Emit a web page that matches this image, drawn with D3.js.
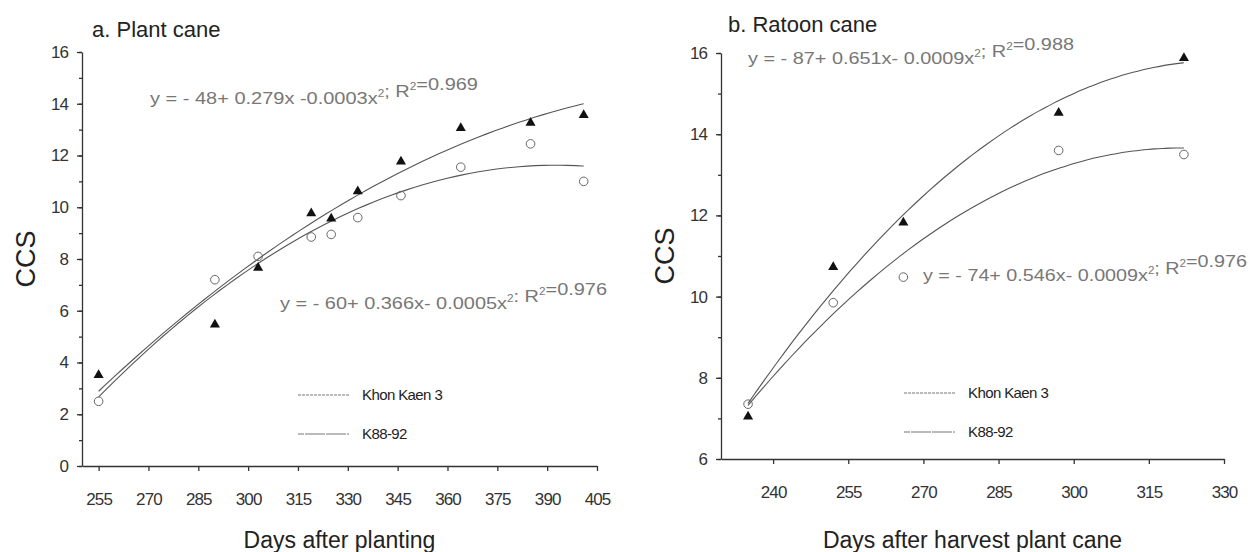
<!DOCTYPE html>
<html>
<head>
<meta charset="utf-8">
<script src="https://cdn.jsdelivr.net/npm/d3@7"></script>
<style>
  body { margin: 0; background: #fff; }
  text { font-family: "Liberation Sans", Arial, sans-serif; fill: #222; }
  .tick text { font-size: 17px; letter-spacing: -0.9px; fill: #333; }
</style>
</head>
<body>
<svg id="chart" width="1254" height="552"></svg>
<script>
// a. Plant cane
const plantDays = [255, 290, 303, 319, 325, 333, 346, 364, 385, 401];
const plantTri  = [3.55, 5.5, 7.7, 9.8, 9.6, 10.65, 11.8, 13.1, 13.3, 13.6];
const plantCirc = [2.5, 7.2, 8.1, 8.85, 8.95, 9.6, 10.45, 11.55, 12.45, 11.0];
const plantXTicks = [255, 270, 285, 300, 315, 330, 345, 360, 375, 390, 405];
const plantYTicks = [0, 2, 4, 6, 8, 10, 12, 14, 16];

// b. Ratoon cane
const ratoonDays = [235, 252, 266, 297, 322];
const ratoonTri  = [7.07, 10.75, 11.85, 14.55, 15.9];
const ratoonCirc = [7.35, 9.85, 10.48, 13.6, 13.5];
const ratoonXTicks = [240, 255, 270, 285, 300, 315, 330];
const ratoonYTicks = [6, 8, 10, 12, 14, 16];

const legendNames = ["Khon Kaen 3", "K88-92"];

const svg = d3.select("#chart");

// least squares quadratic through the points (same as the regression lines in the figure)
function quadFit(xs, ys) {
  const m = d3.mean(xs);
  let S = [[0,0,0],[0,0,0],[0,0,0]], b = [0,0,0];
  xs.forEach((x, i) => {
    const u = x - m, p = [1, u, u*u];
    for (let r = 0; r < 3; r++) {
      b[r] += p[r] * ys[i];
      for (let c = 0; c < 3; c++) S[r][c] += p[r] * p[c];
    }
  });
  // gauss elimination
  for (let k = 0; k < 3; k++) {
    for (let r = k + 1; r < 3; r++) {
      const f = S[r][k] / S[k][k];
      for (let c = k; c < 3; c++) S[r][c] -= f * S[k][c];
      b[r] -= f * b[k];
    }
  }
  const a = [0,0,0];
  for (let r = 2; r >= 0; r--) {
    let s = b[r];
    for (let c = r + 1; c < 3; c++) s -= S[r][c] * a[c];
    a[r] = s / S[r][r];
  }
  return x => a[0] + a[1]*(x-m) + a[2]*(x-m)*(x-m);
}

// text with ² drawn as raised small digit
function eqText(g, str, x, y, len) {
  const t = g.append("text").attr("x", x).attr("y", y)
    .attr("font-size", 17).style("fill", "#777");
  str.split("²").forEach((part, i, arr) => {
    t.append("tspan").text(part);
    if (i < arr.length - 1) {
      t.append("tspan").attr("dy", -7).attr("font-size", 10).text("2");
      t.append("tspan").attr("dy", 7).text("");
    }
  });
  if (len) t.attr("textLength", len).attr("lengthAdjust", "spacingAndGlyphs");
}

function drawPanel(p) {
  const g = svg.append("g");
  const x = d3.scaleLinear().domain(p.xDomain).range([p.left, p.right]);
  const y = d3.scaleLinear().domain(p.yDomain).range([p.bottom, p.top]);

  // minor ticks on y
  const minor = d3.range(p.yDomain[0], p.yDomain[1] + 1, 1);
  g.append("g").attr("transform", `translate(${p.left},0)`)
    .call(d3.axisLeft(y).tickValues(minor).tickSize(3).tickFormat(""))
    .call(a => a.select(".domain").remove());

  g.append("g").attr("transform", `translate(${p.left},0)`)
    .call(d3.axisLeft(y).tickValues(p.yTicks).tickSize(5).tickPadding(9).tickSizeOuter(0));

  g.append("g").attr("transform", `translate(0,${p.bottom})`)
    .call(d3.axisBottom(x).tickValues(p.xTicks).tickSize(5).tickPadding(22).tickSizeOuter(0));

  g.selectAll(".domain, .tick line").attr("stroke", "#333").attr("stroke-width", 1.3);

  // fitted curves
  const line = d3.line().x(d => x(d[0])).y(d => y(d[1])).curve(d3.curveBasis);
  [p.tri, p.circ].forEach(vals => {
    const f = quadFit(p.days, vals);
    const x0 = d3.min(p.days), x1 = d3.max(p.days);
    const pts = d3.range(0, 61).map(i => { const d = x0 + (x1 - x0) * i / 60; return [d, f(d)]; });
    g.append("path").attr("d", line(pts)).attr("fill", "none")
      .attr("stroke", "#555").attr("stroke-width", 1.1);
  });

  // markers
  g.selectAll(".circ").data(p.days).join("circle")
    .attr("cx", d => x(d)).attr("cy", (d, i) => y(p.circ[i])).attr("r", 4.3)
    .attr("fill", "none").attr("stroke", "#666").attr("stroke-width", 1);
  g.selectAll(".tri").data(p.days).join("path")
    .attr("d", d3.symbol(d3.symbolTriangle, 44))
    .attr("transform", (d, i) => `translate(${x(d)},${y(p.tri[i]) + 1})`)
    .attr("fill", "#111");

  // legend
  legendNames.forEach((name, i) => {
    const ly = p.legY + i * 39;
    g.append("line").attr("x1", p.legX).attr("x2", p.legX + 51).attr("y1", ly).attr("y2", ly)
      .attr("stroke", "#777").attr("stroke-width", 1)
      .attr("stroke-dasharray", i === 0 ? "3,1" : "6,1,14,0");
    g.append("text").attr("x", p.legX + 64).attr("y", ly + 5).attr("font-size", 15)
      .attr("letter-spacing", -0.6).text(name);
  });

  p.eqs.forEach(e => eqText(g, e.text, e.x, e.y, e.len));

  g.append("text").attr("x", p.titleX).attr("y", p.titleY).attr("font-size", 22).text(p.title);
  g.append("text").attr("x", (p.left + p.right) / 2).attr("y", 548).attr("text-anchor", "middle")
    .attr("font-size", 23).text(p.xLabel);
  g.append("text").attr("transform", `translate(${p.left - 47},${(p.top + p.bottom) / 2}) rotate(-90)`)
    .attr("text-anchor", "middle").attr("font-size", 27).text("CCS");
}

drawPanel({
  xDomain: [250, 405], yDomain: [0, 16], left: 82, right: 597, top: 52, bottom: 466,
  days: plantDays, tri: plantTri, circ: plantCirc, xTicks: plantXTicks, yTicks: plantYTicks,
  legX: 298, legY: 395, title: "a. Plant cane", titleX: 92, titleY: 37,
  xLabel: "Days after planting",
  eqs: [
    { text: "y = - 48+ 0.279x -0.0003x²; R²=0.969", x: 150, y: 104, len: 328 },
    { text: "y = - 60+ 0.366x- 0.0005x²: R²=0.976", x: 280, y: 309, len: 327 }
  ]
});

drawPanel({
  xDomain: [229.6, 330], yDomain: [6, 16], left: 721, right: 1224, top: 53, bottom: 459,
  days: ratoonDays, tri: ratoonTri, circ: ratoonCirc, xTicks: ratoonXTicks, yTicks: ratoonYTicks,
  legX: 904, legY: 393, title: "b. Ratoon cane", titleX: 728, titleY: 32,
  xLabel: "Days after harvest plant cane",
  eqs: [
    { text: "y = - 87+ 0.651x- 0.0009x²; R²=0.988", x: 748, y: 64, len: 326 },
    { text: "y = - 74+ 0.546x- 0.0009x²; R²=0.976", x: 923, y: 281, len: 324 }
  ]
});
</script>
</body>
</html>
